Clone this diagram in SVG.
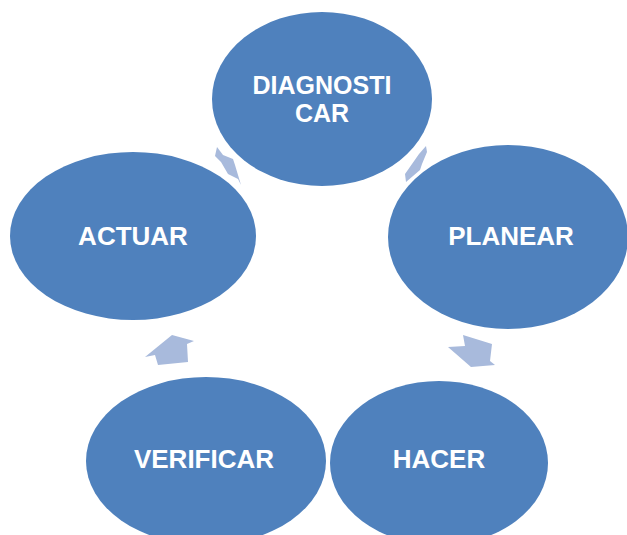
<svg xmlns="http://www.w3.org/2000/svg" width="627" height="535" viewBox="0 0 627 535">
<style>
.node{fill:#4F81BD}
.arr{fill:#A8BADC}
.lbl{fill:#FFFFFF;font-family:"Liberation Sans",Arial,sans-serif;font-weight:bold;font-size:26px;text-anchor:middle}
.lbl2{font-size:25px}
</style>
<rect width="627" height="535" fill="#FFFFFF"/>
<g id="connectors">
<polygon class="arr" points="217,147 223,155 233,159 235,165 241,185 238,179 228,174 221,162 215,156"/>
<polygon class="arr" points="426,146 427,152 422,164 420,170 413,176 406,182 405,174 412,164 419,154"/>
<polygon class="arr" points="463,335 492,344 490,361 495,365 471,367 448,347 465,346"/>
<polygon class="arr" points="145,357 172,335 194,341 187,344 188,362 158,365 155,355"/>
</g>
<g id="diagnosticar">
<ellipse class="node" cx="322" cy="99" rx="110" ry="87"/>
<text class="lbl lbl2" x="322" y="93.5">DIAGNOSTI</text>
<text class="lbl lbl2" x="322" y="121.5">CAR</text>
</g>
<g id="planear">
<ellipse class="node" cx="508" cy="237" rx="120" ry="92"/>
<text class="lbl" x="511" y="245">PLANEAR</text>
</g>
<g id="hacer">
<ellipse class="node" cx="439" cy="463" rx="109" ry="82"/>
<text class="lbl" x="439" y="468">HACER</text>
</g>
<g id="verificar">
<ellipse class="node" cx="206" cy="461" rx="120" ry="84"/>
<text class="lbl" x="204" y="468">VERIFICAR</text>
</g>
<g id="actuar">
<ellipse class="node" cx="133" cy="236" rx="123" ry="84"/>
<text class="lbl" x="133" y="245">ACTUAR</text>
</g>
</svg>
